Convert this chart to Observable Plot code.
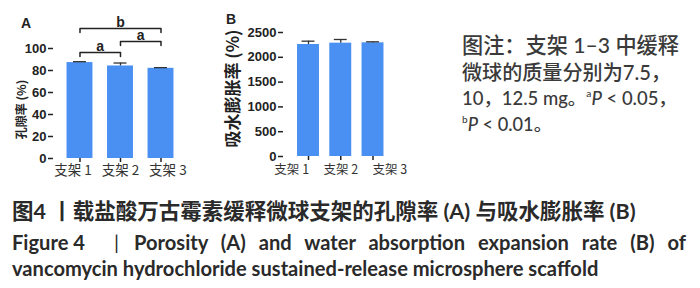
<!DOCTYPE html>
<html><head><meta charset="utf-8">
<script src="https://cdn.jsdelivr.net/npm/d3@7"></script>
<script src="https://cdn.jsdelivr.net/npm/@observablehq/plot@0.6"></script>
<style>
body{margin:0;background:#fff;width:700px;height:288px;overflow:hidden;position:relative;}
.plot{position:absolute;top:0}
.panel{position:absolute;font:bold 14px "Liberation Sans",Arial,sans-serif;color:#222;line-height:14px}
.note{position:absolute;left:462px;white-space:nowrap;font-family:Lato,"Noto Sans CJK SC",sans-serif;font-weight:500;font-size:20px;line-height:24px;color:#3a3a3a}
.cap{position:absolute;white-space:nowrap;font-family:Lato,"Noto Sans CJK SC",sans-serif;font-weight:bold;font-size:19px;line-height:24px;color:#2a2a2a}
.en{font-size:17px}
sup{font-size:0.55em;vertical-align:0.75em;line-height:0}
</style></head>
<body>
<div id="a" class="plot" style="left:0"></div>
<div id="b" class="plot" style="left:200px"></div>
<div class="panel" style="left:21px;top:16px">A</div>
<div class="panel" style="left:226px;top:12px">B</div>
<div class="note" data-w="217" style="top:33px">图注：支架 1–3 中缓释</div>
<div class="note" data-w="209" style="top:60px">微球的质量分别为7.5，</div>
<div class="note" data-w="215" style="top:86px">10，12.5 mg。<sup>a</sup><i>P</i> &lt; 0.05，</div>
<div class="note" data-w="90" style="top:112px"><sup>b</sup><i>P</i> &lt; 0.01。</div>
<div class="cap" data-w="624" style="left:12px;top:199px">图4 丨载盐酸万古霉素缓释微球支架的孔隙率 (A) 与吸水膨胀率 (B)</div>
<div class="cap en" style="left:12px;top:230px">Figure 4</div>
<div class="cap en" style="left:114px;top:230px;font-weight:normal">|</div>
<div class="cap en" id="c2" style="left:134px;top:230px;width:552px;white-space:normal;text-align:justify;text-align-last:justify">Porosity (A) and water absorption expansion rate (B) of</div>
<div class="cap en" id="c3" style="left:12px;top:256px">vancomycin hydrochloride sustained-release microsphere scaffold</div>
<script>
const groups = ["支架 1", "支架 2", "支架 3"];
const porosity = [87.2, 84.1, 82.0];
const porosityErr = [0.8, 2.7, 0.6];
const swelling = [2258, 2285, 2292];
const swellingErr = [67, 74, 20];
const porosityTicks = [0, 20, 40, 60, 80, 100];
const swellingTicks = [0, 500, 1000, 1500, 2000, 2500];
const sigFrom = ["支架 1", "支架 2", "支架 1"];
const sigTo = ["支架 2", "支架 3", "支架 3"];
const sigLevel = [96.4, 106.4, 118.2];
const sigLabel = ["a", "a", "b"];

const BAR = "#4a8ff2", INK = "#222";
const idx = groups.map((g, i) => i);
const cjk = "\"Noto Sans CJK SC\", sans-serif";
const num = "\"Liberation Sans\", Arial, sans-serif";

function panel({values, errs, ticks, yDomain, xDomain, half, cap, spread, tickFont, tickDy, label, labelDx, labelDy, labelSize, margins, extra = []}) {
  return Plot.plot({
    width: 200, height: 185, ...margins,
    x: {domain: xDomain, axis: null},
    y: {domain: yDomain, axis: null},
    style: {background: "transparent", color: INK, overflow: "visible"},
    marks: [
      Plot.rectY(idx, {x1: i => i - half, x2: i => i + half, y1: 0, y2: i => values[i], fill: BAR}),
      Plot.ruleX(idx, {x: i => i, y1: i => values[i], y2: i => values[i] + errs[i], stroke: "#333", strokeWidth: 1.3}),
      Plot.ruleY(idx, {x1: i => i - cap, x2: i => i + cap, y: i => values[i] + errs[i], stroke: "#333", strokeWidth: 1.3}),
      Plot.axisY({ticks, tickFormat: d3.format("d"), tickSize: 5, tickPadding: 2, line: true, label: null, strokeWidth: 1.5,
        fontSize: 13, fontWeight: "bold", fontFamily: num}),
      Plot.axisX({ticks: idx, tickFormat: () => "", tickSize: 4, line: true, label: null, strokeWidth: 1.5}),
      // category labels, spread evenly around the middle bar (they are wider than the bars)
      Plot.text(idx, {x: i => 1 + (i - 1) * spread, y: yDomain[0], text: i => groups[i], lineAnchor: "top", dy: tickDy,
        fontSize: tickFont, fontFamily: cjk, fill: "#333"}),
      Plot.text([label], {text: d => d, frameAnchor: "left", textAnchor: "middle", rotate: -90, dx: labelDx, dy: labelDy,
        fontSize: labelSize, fontWeight: "bold", fontFamily: cjk, fill: INK}),
      ...extra
    ]
  });
}

// significance brackets (panel A)
const drop = 3.6;
const bracketPts = sigLabel.flatMap((s, k) => {
  const a = groups.indexOf(sigFrom[k]), b = groups.indexOf(sigTo[k]);
  return [
    {k, x: a, y: sigLevel[k] - drop}, {k, x: a, y: sigLevel[k]},
    {k, x: b, y: sigLevel[k]}, {k, x: b, y: sigLevel[k] - drop}
  ];
});
const sigMarks = [
  Plot.line(bracketPts, {x: "x", y: "y", z: "k", stroke: INK, strokeWidth: 1.5}),
  Plot.text(sigLabel, {x: (d, k) => (groups.indexOf(sigFrom[k]) + groups.indexOf(sigTo[k])) / 2,
    y: (d, k) => sigLevel[k], text: d => d, lineAnchor: "bottom", dy: -1,
    fontSize: 14, fontWeight: "bold", fontFamily: num, fill: INK})
];

document.getElementById("a").append(panel({
  values: porosity, errs: porosityErr, ticks: porosityTicks, yDomain: [0, 100],
  xDomain: [-0.654, 2.432], half: 0.32, cap: 0.16, spread: 1.17, tickFont: 13.5, tickDy: 7,
  label: "孔隙率 (%)", labelDx: -31, labelDy: 6, labelSize: 12,
  margins: {marginLeft: 53, marginRight: 22, marginTop: 48, marginBottom: 27},
  extra: sigMarks
}));
document.getElementById("b").append(panel({
  values: swelling, errs: swellingErr, ticks: swellingTicks, yDomain: [0, 2500],
  xDomain: [-0.775, 2.48], half: 0.34, cap: 0.2, spread: 1.52, tickFont: 12.5, tickDy: 9,
  label: "吸水膨胀率 (%)", labelDx: -50, labelDy: -6, labelSize: 17,
  margins: {marginLeft: 83, marginRight: 12, marginTop: 32, marginBottom: 29}
}));

// fit text lines to widths measured on the reference
function fit(el, target) {
  const fs = parseFloat(getComputedStyle(el).fontSize);
  const w = el.getBoundingClientRect().width;
  el.style.fontSize = (fs * target / w).toFixed(2) + "px";
}
document.querySelectorAll("[data-w]").forEach(el => fit(el, +el.dataset.w));
const c3 = document.getElementById("c3");
fit(c3, 587);
const enSize = getComputedStyle(c3).fontSize;
document.querySelectorAll(".en").forEach(el => el.style.fontSize = enSize);
</script>
</body></html>
